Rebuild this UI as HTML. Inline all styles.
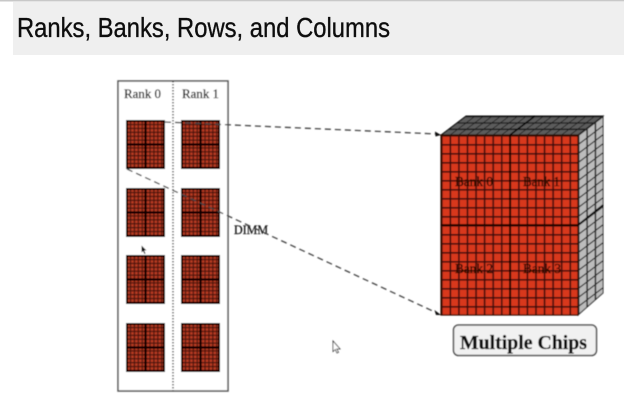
<!DOCTYPE html>
<html>
<head>
<meta charset="utf-8">
<style>
html,body{margin:0;padding:0;background:#fff}
svg{display:block}
</style>
</head>
<body>
<svg width="624" height="411" viewBox="0 0 624 411" xmlns="http://www.w3.org/2000/svg">
<defs>
<filter id="b" x="-5%" y="-5%" width="110%" height="110%"><feGaussianBlur stdDeviation="0.5"/></filter>
<filter id="t" x="-5%" y="-20%" width="110%" height="140%"><feGaussianBlur stdDeviation="0.3"/></filter>
<pattern id="chipgrid" width="3.9" height="3.9" patternUnits="userSpaceOnUse">
<rect width="3.9" height="3.9" fill="#b83a22"/>
<path d="M0 .6H3.9M.6 0V3.9" stroke="#4a120a" stroke-width="1.2" fill="none"/>
</pattern>
<pattern id="front" width="8.5625" height="9" patternUnits="userSpaceOnUse" patternTransform="translate(441 135)">
<rect width="8.5625" height="9" fill="#d8371f"/>
<path d="M0 .7H8.5625M.7 0V9" stroke="#3c0e07" stroke-width="1.8" fill="none"/>
</pattern>
<pattern id="top" width="8.5625" height="6.33" patternUnits="userSpaceOnUse" patternTransform="matrix(1 0 -1.316 1 441 135)">
<rect width="8.5625" height="6.33" fill="#5c5c5c"/>
<path d="M0 .5H8.5625M.5 0V6.33" stroke="#141414" stroke-width="1.5" fill="none"/>
</pattern>
<pattern id="side" width="8.33" height="9" patternUnits="userSpaceOnUse" patternTransform="matrix(1 -0.76 0 1 578 135)">
<rect width="8.33" height="9" fill="#bcbcbc"/>
<path d="M0 .7H8.33M.7 0V9" stroke="#262626" stroke-width="1.6" fill="none"/>
</pattern>
<g id="chip">
<rect x="0" y="0" width="39" height="49" fill="url(#chipgrid)"/>
<rect x="1" y="1" width="37" height="47" fill="none" stroke="#0c0302" stroke-width="2"/>
<path d="M19.5 0V49M0 24.5H39" stroke="#0f0302" stroke-width="2.2" fill="none"/>
</g>
</defs>

<rect x="0" y="0" width="624" height="1.5" fill="#c8c8c8"/>
<rect x="13" y="2" width="611" height="53" fill="#efefef"/>
<text x="17" y="37" font-family="'Liberation Sans',sans-serif" font-size="27.5" fill="#0c0c0c" stroke="#0c0c0c" stroke-width="0.35" textLength="373" lengthAdjust="spacingAndGlyphs" filter="url(#t)">Ranks, Banks, Rows, and Columns</text>

<g filter="url(#b)">
<rect x="118" y="81" width="110" height="310" fill="#fff" stroke="#555" stroke-width="1.5"/>
<line x1="173" y1="81" x2="173" y2="391" stroke="#444" stroke-width="1.5" stroke-dasharray="1.5 1.5"/>
<g font-family="'Liberation Serif',serif" font-size="13" fill="#111" stroke="#111" stroke-width="0.25">
<text x="124" y="98" textLength="37" lengthAdjust="spacingAndGlyphs">Rank 0</text>
<text x="182" y="98" textLength="37" lengthAdjust="spacingAndGlyphs">Rank 1</text>
<text x="234" y="234" textLength="34" lengthAdjust="spacingAndGlyphs">DIMM</text>
</g>

<use href="#chip" x="126" y="120"/>
<use href="#chip" x="181" y="120"/>
<use href="#chip" x="126" y="188"/>
<use href="#chip" x="181" y="188"/>
<use href="#chip" x="126" y="255"/>
<use href="#chip" x="181" y="255"/>
<use href="#chip" x="126" y="323"/>
<use href="#chip" x="181" y="323"/>

<line x1="165" y1="122" x2="437" y2="134" stroke="#444" stroke-width="1.3" stroke-dasharray="6 4"/>
<line x1="127" y1="169" x2="437" y2="313" stroke="#444" stroke-width="1.3" stroke-dasharray="6 4"/>
<polygon points="441,135 435,131.500 435.500,136.500" fill="#111"/>
<polygon points="441,315 434.500,310 436,315" fill="#111"/>

<polygon points="441,135 466,116 603,116 578,135" fill="url(#top)" stroke="#111" stroke-width="1"/>
<polygon points="578,135 603,116 603,293 578,315" fill="url(#side)" stroke="#222" stroke-width="1"/>
<rect x="441" y="135" width="137" height="180" fill="url(#front)" stroke="#2a0a05" stroke-width="1.2"/>
<path d="M510 135V315M441 225H578" stroke="#1c0603" stroke-width="1.8" fill="none"/>
<path d="M510 135L535 116M578 225L603 205" stroke="#050505" stroke-width="1.6" fill="none"/>

<g font-family="'Liberation Serif',serif" font-size="13.500" fill="#2c0804" stroke="#2c0804" stroke-width="0.3">
<text x="455" y="186" textLength="38" lengthAdjust="spacingAndGlyphs">Bank 0</text>
<text x="523" y="186" textLength="37" lengthAdjust="spacingAndGlyphs">Bank 1</text>
<text x="455" y="273" textLength="38" lengthAdjust="spacingAndGlyphs">Bank 2</text>
<text x="523" y="273" textLength="38" lengthAdjust="spacingAndGlyphs">Bank 3</text>
</g>

<rect x="453.500" y="325" width="143" height="30.500" rx="5" fill="#f1f1f1" stroke="#555" stroke-width="1.500"/>
<text x="460" y="349" font-family="'Liberation Serif',serif" font-weight="bold" font-size="20" fill="#0c0c0c" stroke="#0c0c0c" stroke-width="0.3" textLength="127" lengthAdjust="spacingAndGlyphs">Multiple Chips</text>

<path d="M141.500 245.500V252.500L143 251L144.500 254L145.500 253.500L144.200 250.500H146.500Z" fill="#111"/>
<path d="M333 341V351.500L335.300 349.500L337 353L338.500 352.300L336.800 349H340Z" fill="#fff" stroke="#333" stroke-width="0.8"/>
</g>
</svg>
</body>
</html>
